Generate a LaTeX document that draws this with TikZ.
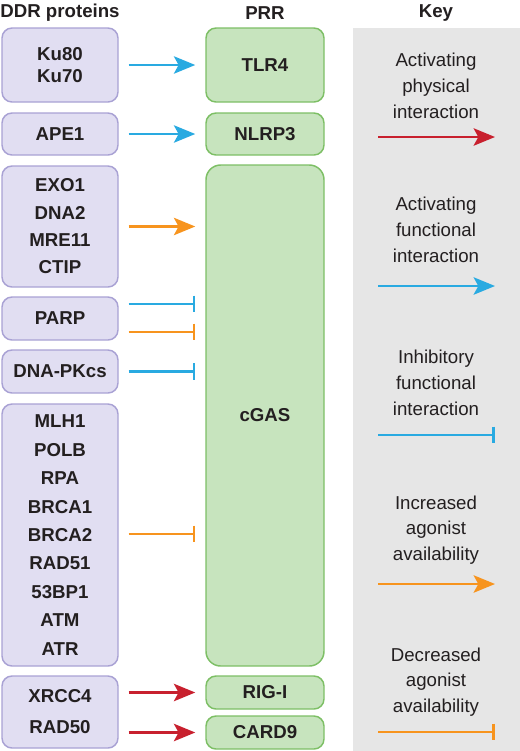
\documentclass[tikz,border=0pt]{standalone}
\usepackage{fontspec}
\setmainfont{Liberation Sans}
\usetikzlibrary{arrows.meta}
\definecolor{ddrfill}{HTML}{E1DEF2}
\definecolor{ddrdraw}{HTML}{A9A2D4}
\definecolor{prrfill}{HTML}{C7E4BE}
\definecolor{prrdraw}{HTML}{7DBF65}
\definecolor{keygray}{HTML}{E6E6E6}
\definecolor{cblue}{HTML}{29AAE1}
\definecolor{corange}{HTML}{F7941E}
\definecolor{cred}{HTML}{C8202E}
\definecolor{ink}{HTML}{231F20}
\tikzset{
  ddr/.style={draw=ddrdraw, fill=ddrfill, line width=1.1pt, rounded corners=7.5pt, text=ink,
    minimum width=87pt, align=center, inner sep=0pt, font=\fontsize{14}{20.5}\selectfont\bfseries},
  prr/.style={draw=prrdraw, fill=prrfill, line width=1.1pt, rounded corners=7.5pt, text=ink,
    minimum width=88.5pt, align=center, inner sep=0pt, font=\fontsize{14}{17}\selectfont\bfseries},
  head/.style={text=ink, font=\fontsize{14}{17}\selectfont\bfseries},
  keytext/.style={text=ink, align=center, font=\fontsize{14}{19.3}\selectfont},
  conn/.style={shorten <=7.5pt, shorten >=7.5pt},
  actarr/.style={line width=2pt, -{Stealth[length=16pt,width=13pt,inset=3.5pt]}},
  inharr/.style={line width=2pt, -{Bar[width=12.5pt]}},
}
\begin{document}
\begin{tikzpicture}[x=0.75pt,y=-0.75pt]
\useasboundingbox (0,0) rectangle (520,751);
% key background
\fill[keygray] (352.5,28) rectangle (520,751);
% headers
\node[head] (hddr) at (60,13) {DDR proteins};
\node[head] (hprr) at (265,13) {PRR};
\node[head] (hkey) at (436,13) {Key};
% DDR boxes
\node[ddr, minimum height=55.5pt, font=\fontsize{14}{17}\selectfont\bfseries] (ku) at (60,65) {Ku80\\Ku70};
\node[ddr, minimum height=31.5pt] (ape) at (60,134) {APE1};
\node[ddr, minimum height=90.75pt] (exo) at (60,226.5) {EXO1\\DNA2\\MRE11\\CTIP};
\node[ddr, minimum height=32.25pt] (parp) at (60,318.5) {PARP};
\node[ddr, minimum height=32.25pt] (dnapk) at (60,371.5) {DNA-PKcs};
\node[ddr, minimum height=196.5pt, font=\fontsize{14}{21.3}\selectfont\bfseries] (mlh) at (60,535) {MLH1\\POLB\\RPA\\BRCA1\\BRCA2\\RAD51\\53BP1\\ATM\\ATR};
\node[ddr, minimum height=54pt, font=\fontsize{14}{23.3}\selectfont\bfseries] (xrcc) at (60,712) {XRCC4\\RAD50};
% PRR boxes
\node[prr, minimum height=55.5pt] (tlr) at (265,65) {TLR4};
\node[prr, minimum height=31.5pt] (nlrp) at (265,134) {NLRP3};
\node[prr, minimum height=375.75pt, rounded corners=11pt] (cgas) at (265,415.5) {cGAS};
\node[prr, minimum height=24.75pt] (rigi) at (265,692.5) {RIG-I};
\node[prr, minimum height=24.75pt] (card) at (265,732.5) {CARD9};
% connectors
\draw[conn, actarr, cblue] (ku) -- (tlr);
\draw[conn, actarr, cblue] (ape) -- (nlrp);
\draw[conn, actarr, corange] (exo.east) -- (exo.east -| cgas.west);
\draw[conn, inharr, cblue] ([yshift=11pt]parp.east) -- ([yshift=11pt]parp.east -| cgas.west);
\draw[conn, inharr, corange] ([yshift=-10pt]parp.east) -- ([yshift=-10pt]parp.east -| cgas.west);
\draw[conn, inharr, cblue] (dnapk.east) -- (dnapk.east -| cgas.west);
\draw[conn, inharr, corange] ([yshift=0.75pt]mlh.east) -- ([yshift=0.75pt]mlh.east -| cgas.west);
\draw[conn, actarr, cred] (rigi.west -| xrcc.east) -- (rigi.west);
\draw[conn, actarr, cred] (card.west -| xrcc.east) -- (card.west);
% key
\node[keytext] (k1) at (436,86) {Activating\\physical\\interaction};
\node[keytext] (k2) at (436,230) {Activating\\functional\\interaction};
\node[keytext] (k3) at (436,383) {Inhibitory\\functional\\interaction};
\node[keytext] (k4) at (436,530) {Increased\\agonist\\availability};
\node[keytext] (k5) at (436,682) {Decreased\\agonist\\availability};
\coordinate (k1a) at (378,137); \coordinate (k1b) at (495,137);
\coordinate (k2a) at (378,286); \coordinate (k2b) at (495,286);
\coordinate (k3a) at (378,435); \coordinate (k3b) at (495,435);
\coordinate (k4a) at (378,584); \coordinate (k4b) at (495,584);
\coordinate (k5a) at (378,732); \coordinate (k5b) at (495,732);
\draw[actarr, cred] (k1a) -- (k1b);
\draw[actarr, cblue] (k2a) -- (k2b);
\draw[inharr, cblue] (k3a) -- (k3b);
\draw[actarr, corange] (k4a) -- (k4b);
\draw[inharr, corange] (k5a) -- (k5b);
\end{tikzpicture}
\end{document}
